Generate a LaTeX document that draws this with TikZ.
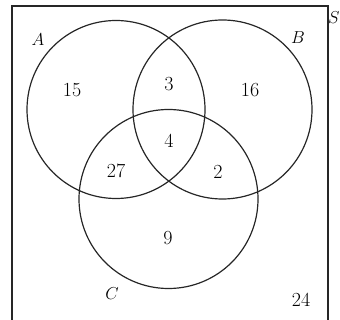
\documentclass[tikz,border=0pt]{standalone}
\begin{document}
\begin{tikzpicture}[x=1pt,y=-1pt,
  setc/.style={draw=black!85,line width=1.2pt},
  lbl/.style={inner sep=0pt,font=\fontsize{20}{22}\selectfont},
  nm/.style={inner sep=0pt,font=\fontsize{19}{21}\selectfont\itshape}]
\useasboundingbox (0,0) rectangle (340,320);
\begin{scope}
\clip (0,0) rectangle (340,320);
\draw[line width=1.2pt,black!85] (12,330) -- (12,6) -- (328,6) -- (328,330);
\end{scope}
\node[setc,circle,minimum size=178pt,inner sep=0pt] (A) at (116,109.5) {};
\node[setc,circle,minimum size=179pt,inner sep=0pt] (B) at (222.5,109.5) {};
\node[setc,circle,minimum size=179pt,inner sep=0pt] (C) at (168.5,199) {};
\node[nm] (la) at (38,40) {$A$};
\node[nm] (lb) at (298,38) {$B$};
\node[nm] (lc) at (112,294) {$C$};
\node[inner sep=0pt,anchor=east,font=\fontsize{16}{18}\selectfont] (ls) at (339.8,18) {$S$};
\node[lbl] (n15) at (72,90) {15};
\node[lbl] (n3) at (169,84) {3};
\node[lbl] (n16) at (250,90) {16};
\node[lbl] (n4) at (169,141) {4};
\node[lbl] (n27) at (116,171) {27};
\node[lbl] (n2) at (218,172) {2};
\node[lbl] (n9) at (168,238) {9};
\node[lbl] (n24) at (301,300) {24};
\end{tikzpicture}
\end{document}
